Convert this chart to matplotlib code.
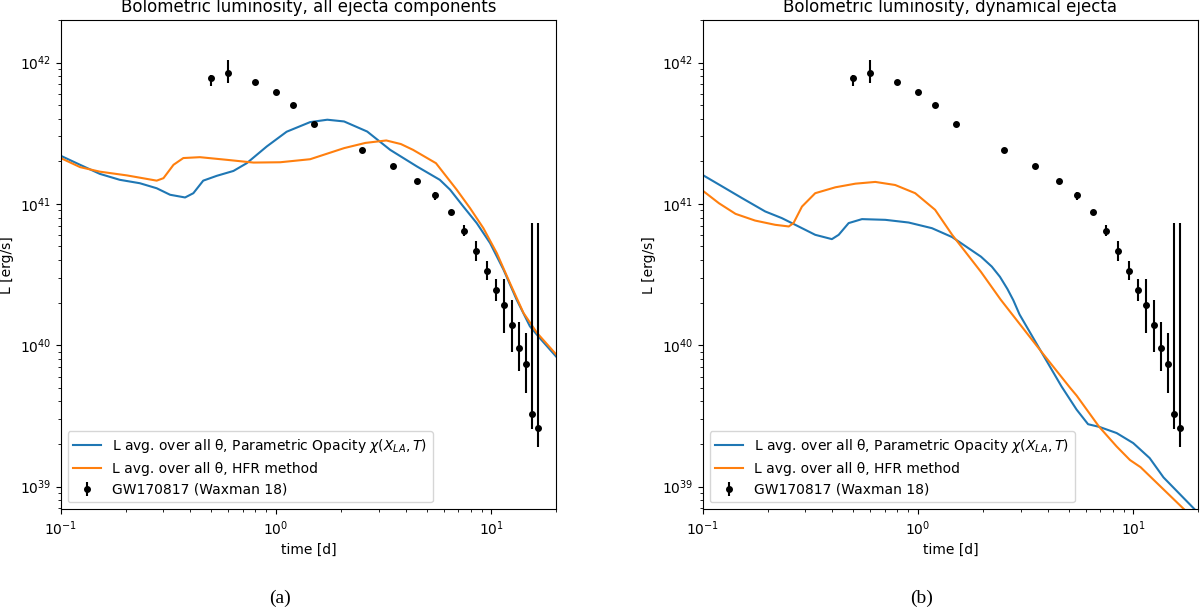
import matplotlib
matplotlib.use('Agg')
import matplotlib.pyplot as plt
import numpy as np

# GW170817 bolometric data (Waxman 18)
obs_t = [0.5, 0.6, 0.8, 1.0, 1.2, 1.5, 2.5, 3.5, 4.5, 5.5, 6.5, 7.5, 8.5, 9.5,
         10.5, 11.5, 12.5, 13.5, 14.5, 15.5, 16.5]
obs_L = [7.76e41, 8.41e41, 7.27e41, 6.14e41, 4.97e41, 3.66e41, 2.42e41, 1.85e41,
         1.46e41, 1.15e41, 8.8e40, 6.47e40, 4.66e40, 3.34e40, 2.47e40, 1.94e40,
         1.39e40, 9.5e39, 7.35e39, 3.25e39, 2.6e39]
obs_err_lo = [0.9e41, 1.27e41, 0, 0, 0, 0, 0, 0, 0, 0.08e41, 3e39, 0.58e40,
              0.69e40, 0.47e40, 0.40e40, 0.72e40, 0.49e40, 0.29e40, 0.277e40,
              0.7e39, 0.7e39]
obs_err_hi = [0.35e41, 2.04e41, 0, 0, 0, 0, 0, 0, 0, 0.07e41, 3e39, 0.61e40,
              0.84e40, 0.63e40, 0.46e40, 0.99e40, 0.70e40, 0.50e40, 0.485e40,
              7.0e40, 7.05e40]

# (a) all ejecta components
all_par_t = [0.1, 0.123, 0.152, 0.188, 0.233, 0.279, 0.322, 0.378, 0.413, 0.459,
             0.531, 0.634, 0.731, 0.906, 1.12, 1.44, 1.73, 2.07, 2.65, 3.39,
             4.51, 5.76, 6.43, 7.41, 8.55, 9.86, 11.4, 13.1, 15.1, 16.8, 20]
all_par_L = [2.19e41, 1.89e41, 1.63e41, 1.48e41, 1.40e41, 1.29e41, 1.16e41,
             1.11e41, 1.19e41, 1.46e41, 1.58e41, 1.71e41, 1.94e41, 2.55e41,
             3.24e41, 3.79e41, 3.94e41, 3.83e41, 3.25e41, 2.41e41, 1.84e41,
             1.48e41, 1.26e41, 9.57e40, 7.31e40, 5.28e40, 3.41e40, 2.10e40,
             1.36e40, 1.12e40, 8.3e39]
all_hfr_t = [0.1, 0.123, 0.152, 0.203, 0.279, 0.30, 0.334, 0.371, 0.443, 0.59,
             0.785, 1.045, 1.44, 2.07, 2.6, 3.25, 3.8, 4.33, 5.53, 6.9, 7.96,
             9.18, 10.6, 12.2, 14.1, 16.3, 20]
all_hfr_L = [2.11e41, 1.82e41, 1.69e41, 1.59e41, 1.46e41, 1.52e41, 1.89e41,
             2.11e41, 2.14e41, 2.05e41, 1.96e41, 1.97e41, 2.07e41, 2.48e41,
             2.70e41, 2.81e41, 2.65e41, 2.41e41, 1.94e41, 1.26e41, 9.33e40,
             6.73e40, 4.48e40, 2.75e40, 1.69e40, 1.22e40, 8.6e39]

# (b) dynamical ejecta
dyn_par_t = [0.1, 0.123, 0.152, 0.195, 0.233, 0.269, 0.333, 0.398, 0.428, 0.476,
             0.549, 0.705, 0.904, 1.16, 1.44, 1.96, 2.2, 2.4, 2.6, 2.77, 2.96,
             3.78, 4.64, 5.45, 6.16, 6.96, 8.36, 9.98, 11.9, 13.8, 20]
dyn_par_L = [1.60e41, 1.33e41, 1.10e41, 8.84e40, 7.93e40, 7.11e40, 6.04e40,
             5.63e40, 6.04e40, 7.31e40, 7.8e40, 7.71e40, 7.38e40, 6.73e40,
             5.82e40, 4.23e40, 3.6e40, 3.05e40, 2.5e40, 2.08e40, 1.65e40,
             8.7e39, 5.1e39, 3.5e39, 2.76e39, 2.64e39, 2.39e39, 2.03e39,
             1.59e39, 1.16e39, 6.5e38]
dyn_hfr_t = [0.1, 0.119, 0.142, 0.175, 0.217, 0.251, 0.264, 0.289, 0.333, 0.413,
             0.512, 0.633, 0.783, 0.97, 1.20, 1.44, 1.96, 2.42, 3.78, 5.08, 5.45,
             6.93, 8.36, 9.64, 10.8, 17.2, 20]
dyn_hfr_L = [1.24e41, 1.01e41, 8.5e40, 7.62e40, 7.11e40, 6.92e40, 7.31e40,
             9.57e40, 1.19e41, 1.31e41, 1.39e41, 1.43e41, 1.36e41, 1.19e41,
             9.08e40, 6.04e40, 3.3e40, 2.1e40, 8.8e39, 5.0e39, 4.4e39, 2.65e39,
             1.92e39, 1.54e39, 1.37e39, 6.9e38, 5.6e38]

panels = [
    ('Bolometric luminosity, all ejecta components', all_par_t, all_par_L,
     all_hfr_t, all_hfr_L, '(a)'),
    ('Bolometric luminosity, dynamical ejecta', dyn_par_t, dyn_par_L,
     dyn_hfr_t, dyn_hfr_L, '(b)'),
]

fig = plt.figure(figsize=(12, 6.1), dpi=100)
lefts = [0.0506, 0.5856]
caption_x = [0.2333, 0.768]

for i, (title, pt, pL, ht, hL, cap) in enumerate(panels):
    ax = fig.add_axes([lefts[i], 0.1651, 0.4129, 0.8021])
    ax.plot(pt, pL, color='tab:blue',
            label=r'L avg. over all θ, Parametric Opacity $\chi(X_{LA}, T)$')
    ax.plot(ht, hL, color='tab:orange', label='L avg. over all θ, HFR method')
    ax.errorbar(obs_t, obs_L, yerr=[obs_err_lo, obs_err_hi], fmt='o',
                color='k', markersize=4, label='GW170817 (Waxman 18)')
    ax.set_xscale('log')
    ax.set_yscale('log')
    ax.set_xlim(0.1, 20)
    ax.set_ylim(6.9e38, 2.0e42)
    ax.set_xlabel('time [d]')
    ax.set_ylabel('L [erg/s]')
    ax.set_title(title)
    ax.legend(loc='lower left')
    fig.text(caption_x[i], 0.0197, cap, ha='center', va='center',
             family='Liberation Serif', fontsize=14)

fig.savefig('out.png')
